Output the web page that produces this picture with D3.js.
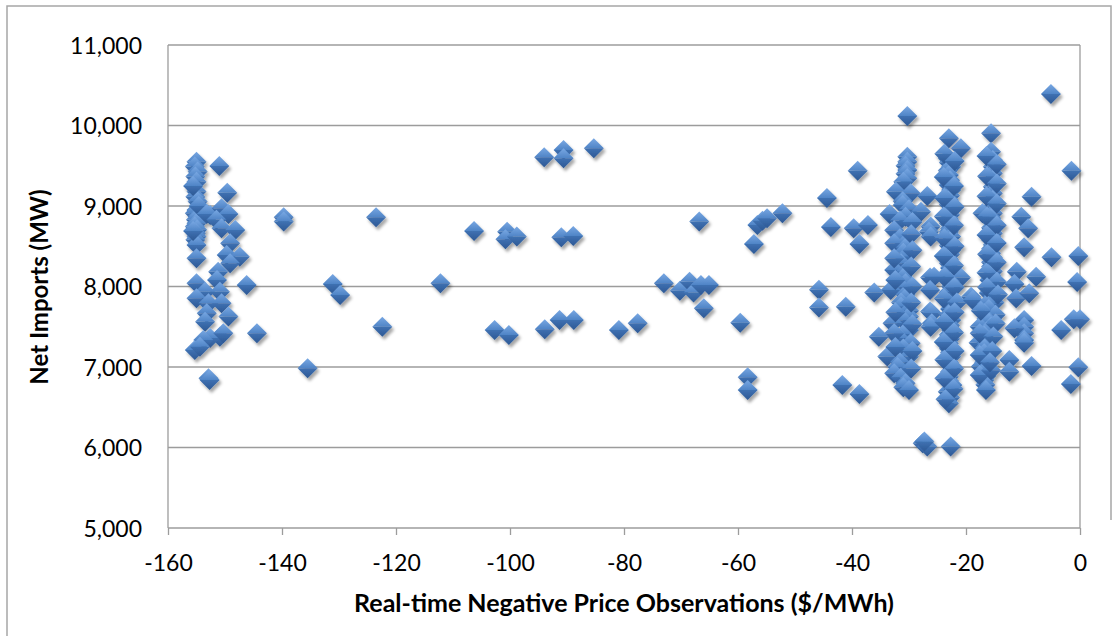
<!DOCTYPE html>
<html>
<head>
<meta charset="utf-8">
<script src="https://cdn.jsdelivr.net/npm/d3@7"></script>
<style>
  body { margin: 0; background: #fff; }
  text { font-family: Lato, "Open Sans", sans-serif; fill: #000; }
</style>
</head>
<body>
<div id="chart"></div>
<script>
// [price $/MWh, net imports MW]
const leftCluster = [
  [-155, 9550], [-155.3, 9490], [-154.8, 9430], [-155.2, 9365], [-155, 9300], [-155, 9180], [-155.2, 9115], [-154.8, 9055],
  [-155, 8950], [-155.3, 8910], [-154.8, 8870], [-155.1, 8830], [-155, 8785], [-155.3, 8745], [-154.9, 8705], [-155.1, 8660],
  [-155, 8620], [-155.2, 8580], [-155, 8515], [-155, 8350], [-155.6, 9250], [-154.6, 9000], [-155.6, 8690],
  [-151.0, 9497], [-149.6, 9166], [-152.6, 8889], [-150.6, 8972], [-149.4, 8901], [-153.2, 8900], [-151.5, 8830], [-150.6, 8723],
  [-148.2, 8702], [-149.1, 8537], [-149.7, 8392], [-147.4, 8370], [-149.1, 8288],
  [-146.2, 8019], [-155, 8040], [-153.5, 7936], [-151.2, 8184], [-151.4, 8081], [-150.9, 7936], [-155, 7854], [-152.9, 7792],
  [-150.6, 7792], [-153.2, 7668], [-149.4, 7626], [-153.5, 7563], [-144.4, 7420], [-150.9, 7377], [-152.6, 7360], [-153.8, 7336],
  [-150.3, 7420], [-155.3, 7212], [-154.4, 7253], [-152.9, 6860], [-152.7, 6840]
];

const midScatter = [
  [-139.7, 8860], [-139.7, 8806], [-123.5, 8860], [-131.1, 8032], [-129.8, 7895], [-122.4, 7501], [-135.5, 6985], [-112.2, 8040],
  [-94.0, 9605], [-90.6, 9696], [-90.6, 9593], [-85.3, 9717],
  [-106.3, 8690], [-100.5, 8681], [-100.8, 8587], [-98.8, 8620], [-91.0, 8612], [-88.9, 8628],
  [-102.7, 7460], [-100.2, 7398], [-93.9, 7469], [-91.3, 7585], [-88.8, 7585], [-80.9, 7460], [-77.6, 7543],
  [-73.0, 8040], [-70.2, 7948], [-68.5, 8060], [-67.8, 7924], [-66.5, 8019], [-65.1, 8019], [-66.0, 7730],
  [-66.8, 8806], [-57.2, 8528], [-56.6, 8764], [-55.7, 8818], [-54.9, 8848], [-52.2, 8910],
  [-59.6, 7551], [-58.3, 6872], [-58.3, 6715],
  [-45.8, 7960], [-45.8, 7740], [-44.4, 9100], [-43.7, 8740]
];

const colA = [
  [-30.3, 9613], [-30.3, 9550], [-30.6, 9500], [-30.3, 9447], [-30.6, 9400], [-30.3, 9344], [-31.0, 9300], [-32.3, 9178],
  [-29.7, 9158], [-26.8, 9125], [-31.1, 9060], [-31.1, 9013], [-30.0, 8960], [-33.4, 8900], [-30.6, 8868], [-31.6, 8820],
  [-27.9, 8930], [-26.2, 8744], [-26.5, 8680], [-26.2, 8620], [-32.6, 8700], [-31.6, 8600], [-32.6, 8537], [-30.6, 8537],
  [-30.6, 8480], [-31.0, 8420], [-30.6, 8370], [-31.4, 8288], [-32.6, 8205], [-30.6, 8184], [-31.0, 8110], [-30.6, 8040],
  [-31.4, 7990], [-33.2, 7957], [-30.6, 7900], [-30.6, 7854], [-31.4, 7800], [-31.4, 7750], [-30.0, 7700], [-30.0, 7626],
  [-31.0, 7580], [-32.9, 7543], [-30.0, 7460], [-31.0, 7410], [-31.7, 7357], [-29.7, 7295], [-31.0, 7230], [-33.8, 7129],
  [-30.0, 7129], [-31.6, 7060], [-32.0, 7000], [-32.6, 6922], [-31.4, 6870], [-30.6, 6798], [-31.0, 6750], [-30.0, 6715],
  [-29.4, 8800], [-29.6, 8650], [-29.4, 8450], [-29.6, 8250], [-29.4, 8000], [-29.6, 7800], [-32.4, 7680], [-29.4, 7530],
  [-32.6, 7420], [-29.4, 7200], [-32.4, 7250], [-29.6, 6980], [-32.4, 8080], [-32.6, 8350],
  [-26.3, 8113], [-25.6, 8122], [-26.3, 7957], [-26.3, 7688], [-26.0, 7667], [-26.0, 7543], [-26.2, 7501]
];

const colB = [
  [-23.0, 9841], [-20.9, 9717], [-23.2, 9593], [-23.0, 9540], [-22.6, 9489], [-23.2, 9440], [-23.0, 9385], [-22.8, 9320],
  [-23.0, 9260], [-22.6, 9199], [-22.8, 9130], [-23.0, 9075], [-23.0, 9020], [-22.6, 8950], [-22.8, 8890], [-23.0, 8840],
  [-23.0, 8786], [-22.8, 8720], [-23.0, 8680], [-22.6, 8620], [-22.8, 8560], [-23.0, 8510], [-22.6, 8454], [-22.8, 8400],
  [-23.0, 8340], [-23.0, 8288], [-22.8, 8230], [-23.0, 8170], [-20.9, 8113], [-22.8, 8060], [-22.6, 8000], [-23.0, 7930],
  [-19.1, 7874], [-23.0, 7792], [-22.8, 7720], [-23.0, 7650], [-22.6, 7585], [-22.8, 7520], [-22.6, 7460], [-23.0, 7400],
  [-22.8, 7350], [-23.0, 7295], [-23.0, 7230], [-22.8, 7180], [-22.6, 7129], [-23.0, 7060], [-22.4, 7005], [-22.8, 6940],
  [-23.0, 6880], [-23.0, 6830], [-22.4, 6777], [-23.2, 6694], [-22.8, 6620], [-23.0, 6550],
  [-23.8, 9650], [-22.0, 9560], [-23.9, 9360], [-22.1, 9250], [-23.8, 9100], [-22.0, 8990], [-23.9, 8870], [-22.1, 8760],
  [-23.8, 8600], [-22.0, 8500], [-23.9, 8380], [-22.1, 8260], [-23.8, 8120], [-22.0, 7990], [-23.9, 7850], [-21.6, 7800],
  [-22.0, 7680], [-23.8, 7560], [-22.1, 7430], [-23.9, 7310], [-22.0, 7200], [-23.8, 7090], [-22.1, 6980], [-23.8, 6860],
  [-22.2, 6730], [-23.6, 6600]
];

const colC = [
  [-15.6, 9903], [-15.6, 9675], [-15.3, 9572], [-15.3, 9489], [-15.3, 9406], [-15.3, 9323], [-15.3, 9240], [-15.3, 9158],
  [-15.3, 9075], [-15.3, 8992], [-15.3, 8910], [-17.1, 8910], [-15.6, 8850], [-15.3, 8790], [-15.6, 8730], [-15.3, 8660],
  [-15.6, 8620], [-15.6, 8578], [-15.3, 8520], [-15.6, 8470], [-15.6, 8413], [-15.3, 8360], [-15.6, 8300], [-15.6, 8247],
  [-15.3, 8190], [-15.6, 8140], [-15.9, 8081], [-15.3, 8020], [-15.6, 7960], [-16.0, 7920], [-15.3, 7874], [-18.8, 7833],
  [-15.0, 7800], [-16.4, 7780], [-16.0, 7720], [-16.8, 7667], [-14.8, 7650], [-16.4, 7600], [-16.0, 7550], [-15.6, 7501],
  [-17.6, 7500], [-16.4, 7440], [-16.8, 7390], [-16.8, 7336], [-17.8, 7300], [-16.4, 7280], [-16.8, 7230], [-16.8, 7170],
  [-16.4, 7110], [-16.8, 7060], [-17.4, 7005], [-16.8, 6940], [-16.4, 6890], [-16.8, 6840], [-16.6, 6780], [-16.5, 6715],
  [-16.4, 9620], [-14.6, 9520], [-16.3, 9370], [-14.6, 9280], [-16.4, 9120], [-14.6, 9030], [-16.3, 8870], [-14.6, 8760],
  [-16.4, 8640], [-14.6, 8540], [-16.3, 8400], [-14.6, 8300], [-16.4, 8170], [-14.6, 8060], [-16.3, 7990], [-14.4, 7900],
  [-17.4, 7700], [-14.8, 7540], [-17.6, 7420], [-15.2, 7380], [-17.6, 7150], [-15.4, 7200], [-17.6, 6900], [-15.6, 6960],
  [-15.8, 7060]
];

const rightScatter = [
  [-5.1, 10391], [-30.3, 10118], [-39.0, 9439], [-1.5, 9439], [-8.5, 9116], [-39.7, 8723], [-37.2, 8764], [-38.7, 8528],
  [-10.3, 8868], [-9.1, 8723], [-9.8, 8487], [-5.0, 8363], [-0.3, 8380], [-0.5, 8055], [-7.7, 8122], [-11.1, 8184],
  [-11.5, 8032], [-11.2, 7854], [-8.9, 7916],
  [-9.8, 7585], [-9.8, 7500], [-9.8, 7420], [-9.8, 7336], [-9.8, 7300], [-11.5, 7481], [-3.3, 7460], [-1.1, 7593], [0, 7593],
  [-12.4, 7088], [-12.4, 6942], [-8.5, 7013], [-0.3, 6997], [-1.6, 6790],
  [-41.1, 7750], [-41.7, 6777], [-38.7, 6665], [-36.1, 7924], [-35.3, 7377],
  [-27.6, 6053], [-26.8, 6011], [-27.3, 6073], [-22.7, 6011]
];

const xTicks = [-160, -140, -120, -100, -80, -60, -40, -20, 0];
const yTicks = [5000, 6000, 7000, 8000, 9000, 10000, 11000];

const width = 1114, height = 636;
const plot = { left: 168, right: 1080, top: 45, bottom: 528 };

const x = d3.scaleLinear().domain([-160, 0]).range([plot.left, plot.right]);
const y = d3.scaleLinear().domain([5000, 11000]).range([plot.bottom, plot.top]);

const svg = d3.select("#chart").append("svg")
    .attr("width", width)
    .attr("height", height);

const defs = svg.append("defs");
const gTop = defs.append("linearGradient").attr("id", "gTop")
    .attr("x1", 0).attr("y1", 0).attr("x2", 0).attr("y2", 1);
gTop.append("stop").attr("offset", "0%").attr("stop-color", "#79a8e3");
gTop.append("stop").attr("offset", "100%").attr("stop-color", "#4f84c6");
const gBot = defs.append("linearGradient").attr("id", "gBot")
    .attr("x1", 0).attr("y1", 0).attr("x2", 0).attr("y2", 1);
gBot.append("stop").attr("offset", "0%").attr("stop-color", "#3f71b2");
gBot.append("stop").attr("offset", "100%").attr("stop-color", "#2d5894");
const shadow = defs.append("filter").attr("id", "shadow")
    .attr("x", "-20%").attr("y", "-20%").attr("width", "140%").attr("height", "140%");
shadow.append("feDropShadow")
    .attr("dx", 2).attr("dy", 3).attr("stdDeviation", 1.8)
    .attr("flood-color", "#000").attr("flood-opacity", 0.35);

// outer chart frame
const frame = svg.append("g").attr("stroke", "#a6a6a6").attr("stroke-width", 1.5).attr("fill", "none");
frame.append("path").attr("d", "M7,636 V6 H1111 V520");

// gridlines
svg.append("g")
  .selectAll("line")
  .data(yTicks)
  .enter().append("line")
    .attr("x1", plot.left).attr("x2", plot.right)
    .attr("y1", d => y(d)).attr("y2", d => y(d))
    .attr("stroke", "#9c9c9c")
    .attr("stroke-width", 1.3);

// x axis
const xAxis = svg.append("g")
    .attr("transform", "translate(0," + plot.bottom + ")")
    .call(d3.axisBottom(x).tickValues(xTicks).tickSize(7).tickPadding(20).tickFormat(d => String(d)));
xAxis.select(".domain").remove();
xAxis.selectAll("line").attr("stroke", "#9c9c9c").attr("stroke-width", 1.3);
xAxis.selectAll("text").style("font-size", "23px").attr("fill", "#000");

// y axis
const yAxis = svg.append("g")
    .attr("transform", "translate(" + plot.left + ",0)")
    .call(d3.axisLeft(y).tickValues(yTicks).tickSize(0).tickPadding(26).tickFormat(d3.format(",")));
yAxis.select(".domain").remove();
yAxis.selectAll("text").style("font-size", "23px").attr("dy", "0.36em").attr("fill", "#000");

// plot area sides
svg.append("line")
    .attr("x1", plot.left).attr("x2", plot.left)
    .attr("y1", plot.top).attr("y2", plot.bottom)
    .attr("stroke", "#9c9c9c").attr("stroke-width", 1.3);
svg.append("line")
    .attr("x1", plot.right).attr("x2", plot.right)
    .attr("y1", plot.top).attr("y2", plot.bottom)
    .attr("stroke", "#9c9c9c").attr("stroke-width", 1.3);

// markers
const points = [].concat(leftCluster, midScatter, colA, colB, colC, rightScatter);
const r = 10;
const marks = svg.append("g").attr("filter", "url(#shadow)");
const m = marks.selectAll(".pt")
    .data(points)
  .enter().append("g")
    .attr("class", "pt")
    .attr("transform", d => "translate(" + x(d[0]) + "," + y(d[1]) + ")");
m.append("path")
    .attr("d", `M0,${-r} L${r},0 L${-r},0 Z`)
    .attr("fill", "url(#gTop)");
m.append("path")
    .attr("d", `M${-r},0 L${r},0 L0,${r} Z`)
    .attr("fill", "url(#gBot)");

// axis titles
svg.append("text")
    .attr("x", (plot.left + plot.right) / 2)
    .attr("y", 612)
    .attr("text-anchor", "middle")
    .style("font-size", "25px")
    .style("font-weight", "bold")
    .text("Real-time Negative Price Observations ($/MWh)");

svg.append("text")
    .attr("transform", "translate(48,287) rotate(-90)")
    .attr("text-anchor", "middle")
    .style("font-size", "24px")
    .style("font-weight", "bold")
    .text("Net Imports (MW)");
</script>
</body>
</html>
